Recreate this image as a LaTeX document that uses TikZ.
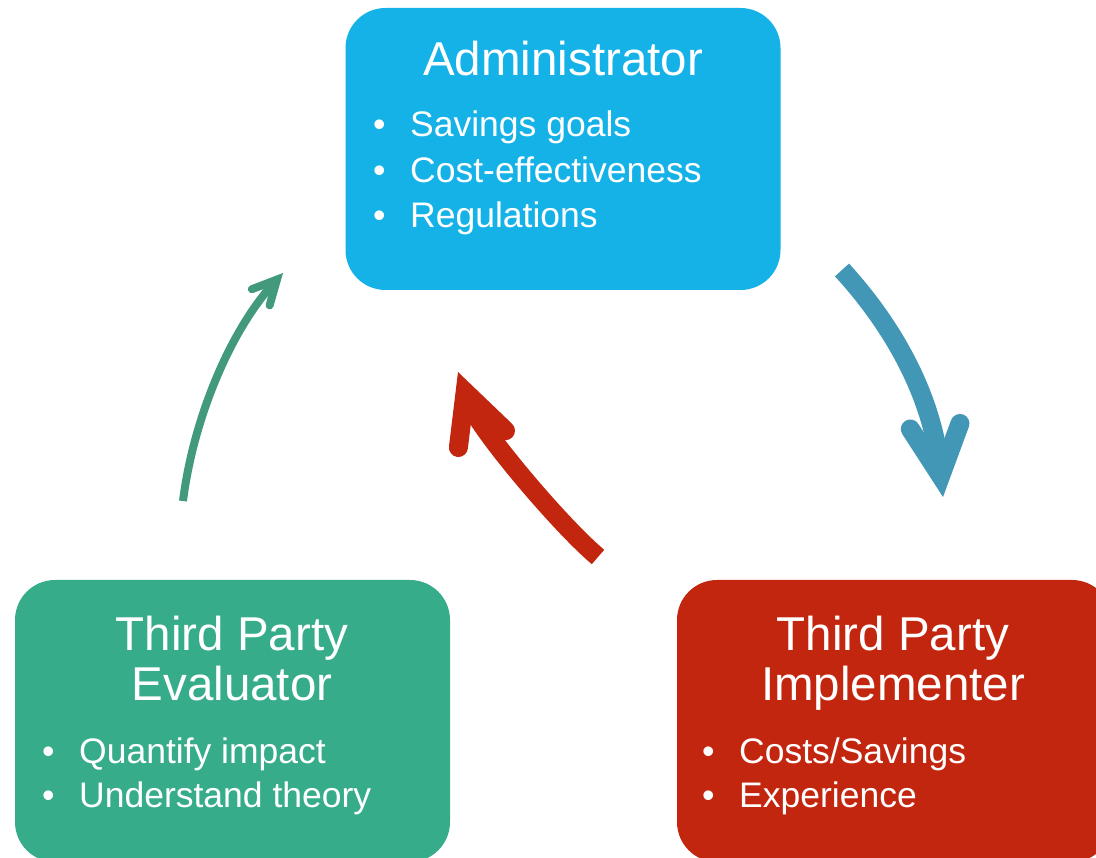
\documentclass[tikz,border=0pt]{standalone}
\usepackage{fontspec}
\setmainfont{Liberation Sans}
\usetikzlibrary{arrows.meta,positioning}
\definecolor{admblue}{HTML}{15B2E8}
\definecolor{evalgreen}{HTML}{36AC8B}
\definecolor{implred}{HTML}{C3260F}
\definecolor{flowblue}{HTML}{4297B6}
\definecolor{flowgreen}{HTML}{42997B}
\newcommand{\itm}[1]{\makebox[37pt][l]{\textbullet}#1}

\begin{document}
\begin{tikzpicture}[
  x=1pt, y=-1pt,
  role/.style={rounded corners=40pt, minimum width=435pt, minimum height=282pt, inner sep=0pt},
  title/.style={text=white, font=\fontsize{47.5}{50}\selectfont, anchor=base, inner sep=0pt},
  point/.style={text=white, font=\fontsize{35.5}{44}\selectfont, anchor=base west, inner sep=0pt},
  flow/.style={line cap=butt, -{Straight Barb[length=#1, width=#1, line cap=round, line join=miter]}}
]
\useasboundingbox (0,0) rectangle (1096,858);
\clip (0,0) rectangle (1096,858);

\node[role, fill=admblue] (admin) at (563,149) {};
\node[title] (admintitle) at (563,76) {Administrator};
\node[point] (admin1) at (373,137) {\itm{Savings goals}};
\node[point] (admin2) at (373,182.5) {\itm{Cost-effectiveness}};
\node[point] (admin3) at (373,228) {\itm{Regulations}};

\node[role, fill=evalgreen] (eval) at (232.5,721) {};
\node[title] (evaltitle1) at (232,650) {Third Party};
\node[title] (evaltitle2) at (232,700) {Evaluator};
\node[point] (eval1) at (42,763) {\itm{Quantify impact}};
\node[point] (eval2) at (42,807.5) {\itm{Understand theory}};

\node[role, fill=implred] (impl) at (894.5,721) {};
\node[title] (impltitle1) at (893,650) {Third Party};
\node[title] (impltitle2) at (893,700) {Implementer};
\node[point] (impl1) at (702,763) {\itm{Costs/Savings}};
\node[point] (impl2) at (702,807.5) {\itm{Experience}};

\coordinate (adm-out) at (842,270);
\coordinate (impl-in) at (943,497);
\coordinate (impl-out) at (598,557);
\coordinate (adm-in-r) at (458,372);
\coordinate (eval-out) at (183,501);
\coordinate (adm-in-g) at (283,273);

\draw[flow=50pt, line width=19pt, flowblue] (adm-out) .. controls (896,329) and (932,398) .. (impl-in);
\draw[flow=50pt, line width=19pt, implred] (impl-out) .. controls (560,525) and (478,428) .. (adm-in-r);
\draw[flow=24pt, line width=8pt, flowgreen] (eval-out) .. controls (193,421) and (229,332) .. (adm-in-g);
\end{tikzpicture}
\end{document}
